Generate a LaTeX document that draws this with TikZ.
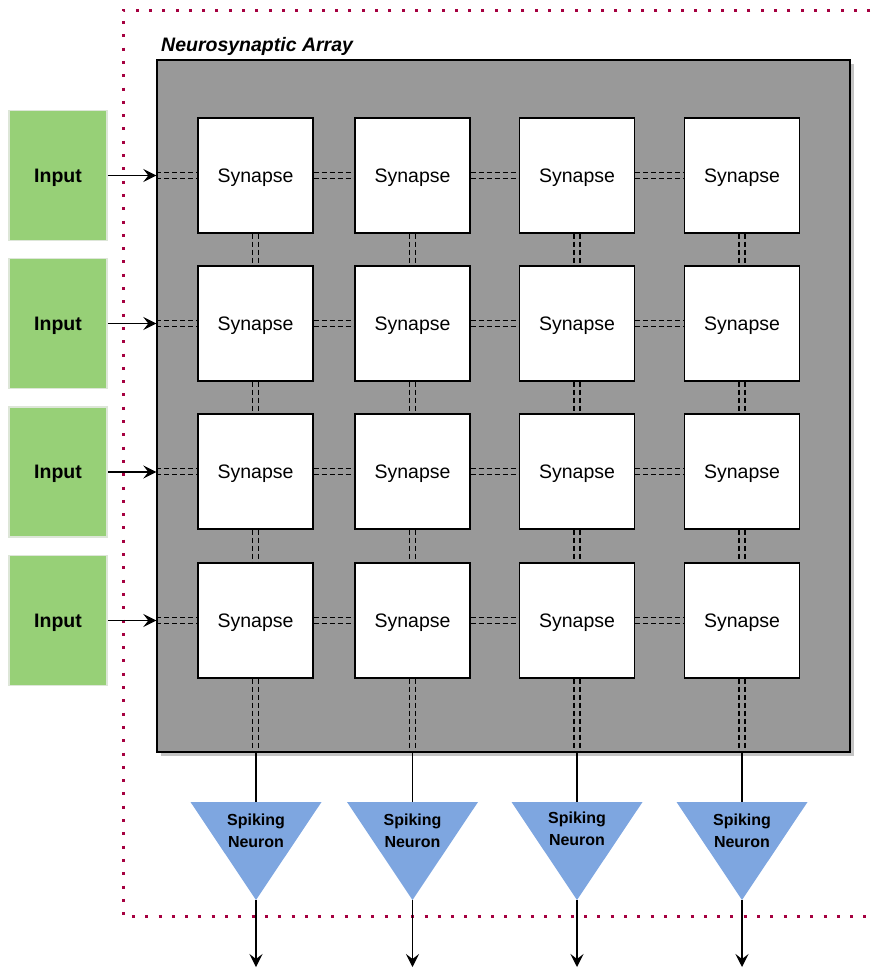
\documentclass[tikz,border=0pt]{standalone}
\usepackage{fontspec}
\setmainfont{Liberation Sans}
\usetikzlibrary{arrows.meta,shadows}

\definecolor{arraygray}{HTML}{999999}
\definecolor{shadowgray}{HTML}{C4C4C4}
\definecolor{inputgreen}{HTML}{97D077}
\definecolor{inputedge}{HTML}{DDE6D8}
\definecolor{neuronblue}{HTML}{7EA6E0}
\definecolor{framered}{HTML}{A50040}

\tikzset{
  arraybox/.style={draw=black, line width=1.4pt, fill=arraygray,
    minimum width=693pt, minimum height=692pt, inner sep=0pt,
    drop shadow={shadow xshift=4pt, shadow yshift=-4pt, fill=shadowgray, opacity=1}},
  synapse/.style={draw=black, line width=1.3pt, fill=white,
    minimum width=115pt, minimum height=115pt, inner sep=0pt,
    text height=13.5pt, text depth=0pt,
    font=\fontsize{19.5}{23}\selectfont},
  inputbox/.style={draw=inputedge, line width=1.5pt, fill=inputgreen,
    minimum width=98pt, minimum height=130pt, inner sep=0pt,
    text height=13.5pt, text depth=0pt,
    font=\fontsize{19.5}{23}\selectfont\bfseries},
  neuronlabel/.style={align=center, inner sep=0pt,
    font=\fontsize{16}{22}\selectfont\bfseries},
  dashline/.style={draw=black, line width=1.25pt, dash pattern=on 5pt off 3pt},
  wire/.style={draw=black, line width=1.3pt},
  arrowwire/.style={wire, -{Stealth[length=13pt,width=13pt,inset=5pt]}},
  frame/.style={draw=framered, line width=3pt, dash pattern=on 3pt off 10.3pt}
}

\begin{document}
\begin{tikzpicture}[x=1pt,y=-1pt]
\useasboundingbox (0,0) rectangle (873,969);

% dotted enclosure, running off the right edge
\begin{scope}
  \clip (0,0) rectangle (873,969);
  \draw[frame] (910,10) -- (123,10) -- (123,916.5) -- (910,916.5);
\end{scope}

% the array body
\node[arraybox] (array) at (503.5,406) {};
\node[anchor=base west, inner sep=0pt, font=\fontsize{19.5}{23}\selectfont\bfseries\itshape]
  (title) at (161,51) {Neurosynaptic Array};

% synapse grid
\foreach \r/\y in {1/175.5,2/323.5,3/471.5,4/620.5}{
  \foreach \c/\x in {1/255.5,2/412.5,3/577,4/742}{
    \node[synapse] (s\r\c) at (\x,\y) {Synapse};
  }
}

% inputs
\foreach \r/\y in {1/175.5,2/323.5,3/472,4/620.5}{
  \node[inputbox] (in\r) at (58,\y) {Input};
  \draw[arrowwire] (in\r.east) -- (array.west |- in\r.east);
}

% horizontal paired row lines
\foreach \r in {1,2,3,4}{
  \foreach \o in {-3pt,3pt}{
    \begin{scope}[transform canvas={yshift=\o}]
      \draw[dashline] (array.west |- s\r1.west) -- (s\r1.west);
      \foreach \c/\n in {1/2,2/3,3/4}{
        \draw[dashline] (s\r\c.east) -- (s\r\n.west);
      }
    \end{scope}
  }
}

% vertical paired column lines
\foreach \c in {1,2,3,4}{
  \foreach \o in {-3pt,3pt}{
    \begin{scope}[transform canvas={xshift=\o}]
      \foreach \r/\n in {1/2,2/3,3/4}{
        \draw[dashline] (s\r\c.south) -- (s\n\c.north);
      }
      \draw[dashline] (s4\c.south) -- (array.south -| s4\c.south);
    \end{scope}
  }
}

% spiking neurons
\foreach \c/\x/\ty in {1/256/831,2/412.5/831,3/577/829,4/742/831}{
  \coordinate (ntop\c) at (\x,802);
  \coordinate (ntip\c) at (\x,900);
  \coordinate (nout\c) at (\x,967);
  \fill[neuronblue] (\x-65.5,802) -- (\x+65.5,802) -- (ntip\c) -- cycle;
  \node[neuronlabel] (n\c) at (\x,\ty) {Spiking\\Neuron};
  \draw[wire] (array.south -| ntop\c) -- (ntop\c);
  \draw[arrowwire] (ntip\c) -- (nout\c);
}
\end{tikzpicture}
\end{document}
